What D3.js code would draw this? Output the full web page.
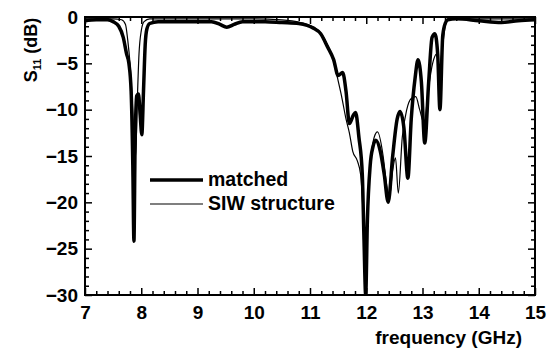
<!DOCTYPE html>
<html>
<head>
<meta charset="utf-8">
<script src="https://cdn.jsdelivr.net/npm/d3@7"></script>
<style>
  body { margin: 0; background: #fff; }
  text { font-family: "Liberation Sans", Arial, sans-serif; font-weight: bold; }
</style>
</head>
<body>
<svg id="chart" width="552" height="349"></svg>
<script>
// courbe "matched" (trait épais) : fréquence en GHz, S11 en dB
const matchedFreq = [7.0, 7.2, 7.4, 7.5, 7.6, 7.68, 7.74, 7.78, 7.82, 7.85, 7.87, 7.89, 7.92, 7.95, 7.98, 8.01, 8.04, 8.07, 8.1, 8.15, 8.3, 8.6, 9.0, 9.25, 9.4, 9.52, 9.65, 9.8, 10.2, 10.5, 10.8, 10.95, 11.06, 11.19, 11.31, 11.42, 11.5, 11.58, 11.64, 11.7, 11.77, 11.81, 11.87, 11.93, 11.96, 11.99, 12.02, 12.07, 12.12, 12.17, 12.25, 12.32, 12.39, 12.47, 12.55, 12.6, 12.67, 12.74, 12.8, 12.87, 12.92, 12.98, 13.04, 13.11, 13.17, 13.22, 13.27, 13.31, 13.36, 13.41, 13.45, 13.6, 14.0, 14.4, 14.7, 15.0];
const matchedDb = [-0.4, -0.3, -0.3, -0.5, -1.0, -2.2, -4.0, -5.0, -8.0, -16, -24.2, -14, -8.5, -8.3, -10.5, -12.7, -8, -3, -1.3, -0.7, -0.5, -0.5, -0.5, -0.5, -0.8, -1.1, -0.8, -0.5, -0.5, -0.6, -0.7, -0.9, -1.2, -1.8, -3.2, -4.6, -6.3, -6.0, -8, -11.5, -10.6, -10.3, -13, -17, -24, -30, -22, -16, -14, -13.3, -14.5, -17, -20, -15, -11, -10.2, -12, -17.4, -11, -6.5, -4.6, -7, -13.6, -7, -2.2, -1.8, -4, -10, -2, -0.6, -0.3, -0.2, -0.4, -0.6, -0.4, -0.3];

// courbe "SIW structure" (trait fin)
const siwFreq = [7.0, 7.5, 7.65, 7.72, 7.76, 7.8, 7.84, 7.88, 7.9, 7.93, 7.96, 8.0, 8.05, 8.15, 9.0, 10.0, 10.5, 10.83, 11.06, 11.19, 11.31, 11.42, 11.49, 11.56, 11.64, 11.7, 11.76, 11.84, 11.9, 11.95, 11.99, 12.03, 12.08, 12.14, 12.2, 12.3, 12.36, 12.41, 12.47, 12.52, 12.57, 12.64, 12.72, 12.8, 12.88, 12.95, 13.03, 13.1, 13.18, 13.25, 13.3, 13.36, 13.41, 13.46, 13.6, 15.0];
const siwDb = [-0.2, -0.2, -0.3, -0.8, -2.5, -5, -9, -14, -15, -9, -4, -1.5, -0.5, -0.2, -0.2, -0.2, -0.3, -0.6, -1.1, -1.7, -3.0, -4.8, -6.6, -8.5, -11, -12.5, -14.5, -15.5, -17, -22, -28, -20, -15.5, -13, -12.4, -15, -18, -19.5, -16.5, -15.2, -19, -13, -10, -8.8, -8.6, -10, -11.5, -8, -5, -4, -5.5, -3, -0.8, -0.3, -0.2, -0.2];

const xTicks = [7, 8, 9, 10, 11, 12, 13, 14, 15];
const yTicks = [0, -5, -10, -15, -20, -25, -30];
const legendLabels = ["matched", "SIW structure"];

const svg = d3.select("#chart");
const width = 552, height = 349;
const plotLeft = 85, plotRight = 535, plotTop = 17, plotBottom = 295;
const x = d3.scaleLinear().domain([7, 15]).range([plotLeft, plotRight]);
const y = d3.scaleLinear().domain([-30, 0]).range([plotBottom, plotTop]);

// graduations mineures : 0.2 GHz et 1 dB
const xMinor = d3.range(7, 15.001, 0.2).filter(v => Math.abs(v - Math.round(v)) > 1e-6);
const yMinor = d3.range(-30, 0.001, 1).filter(v => v % 5 !== 0);

function tickAxis(axis, transform) {
  const g = svg.append("g").attr("transform", transform).call(axis);
  g.select(".domain").remove();
  g.selectAll("line").attr("stroke", "#000").attr("stroke-width", 1.5);
  g.selectAll("text").attr("fill", "#000").style("font-size", "19px");
  return g;
}

tickAxis(d3.axisBottom(x).tickValues(xTicks).tickSize(-7).tickPadding(11).tickFormat(d3.format("d")), `translate(0,${plotBottom})`);
tickAxis(d3.axisBottom(x).tickValues(xMinor).tickSize(-4).tickFormat(""), `translate(0,${plotBottom})`);
tickAxis(d3.axisTop(x).tickValues(xTicks).tickSize(-7).tickFormat(""), `translate(0,${plotTop})`);
tickAxis(d3.axisTop(x).tickValues(xMinor).tickSize(-4).tickFormat(""), `translate(0,${plotTop})`);
tickAxis(d3.axisLeft(y).tickValues(yTicks).tickSize(-7).tickPadding(7).tickFormat(d3.format("d")), `translate(${plotLeft},0)`);
tickAxis(d3.axisLeft(y).tickValues(yMinor).tickSize(-4).tickFormat(""), `translate(${plotLeft},0)`);
tickAxis(d3.axisRight(y).tickValues(yTicks).tickSize(-7).tickFormat(""), `translate(${plotRight},0)`);
tickAxis(d3.axisRight(y).tickValues(yMinor).tickSize(-4).tickFormat(""), `translate(${plotRight},0)`);

// cadre
svg.append("rect")
  .attr("x", plotLeft).attr("y", plotTop)
  .attr("width", plotRight - plotLeft).attr("height", plotBottom - plotTop)
  .attr("fill", "none").attr("stroke", "#000").attr("stroke-width", 2);

svg.append("clipPath").attr("id", "clip")
  .append("rect").attr("x", plotLeft).attr("y", plotTop).attr("width", plotRight - plotLeft).attr("height", plotBottom - plotTop);

const line = d3.line().x(d => x(d[0])).y(d => y(d[1])).curve(d3.curveMonotoneX);

svg.append("path")
  .datum(d3.zip(siwFreq, siwDb))
  .attr("clip-path", "url(#clip)")
  .attr("fill", "none").attr("stroke", "#000").attr("stroke-width", 1.2)
  .attr("d", line);

svg.append("path")
  .datum(d3.zip(matchedFreq, matchedDb))
  .attr("clip-path", "url(#clip)")
  .attr("fill", "none").attr("stroke", "#000").attr("stroke-width", 3.5)
  .attr("stroke-linejoin", "round")
  .attr("d", line);

// légende
const legend = svg.append("g");
[3.5, 1.2].forEach((w, i) => {
  const ly = 180 + i * 24;
  legend.append("line").attr("x1", 150).attr("x2", 203).attr("y1", ly).attr("y2", ly)
    .attr("stroke", "#000").attr("stroke-width", w);
  legend.append("text").attr("x", 208).attr("y", ly + 6).style("font-size", "19.5px").text(legendLabels[i]);
});

// titres des axes
svg.append("text").attr("x", 522).attr("y", 344).attr("text-anchor", "end")
  .style("font-size", "19px").text("frequency (GHz)");

const yt = svg.append("text").attr("transform", "translate(37,50) rotate(-90)")
  .attr("text-anchor", "middle").style("font-size", "18px");
yt.append("tspan").text("S");
yt.append("tspan").attr("dy", 4).style("font-size", "11px").text("11");
yt.append("tspan").attr("dy", -4).text(" (dB)");
</script>
</body>
</html>
